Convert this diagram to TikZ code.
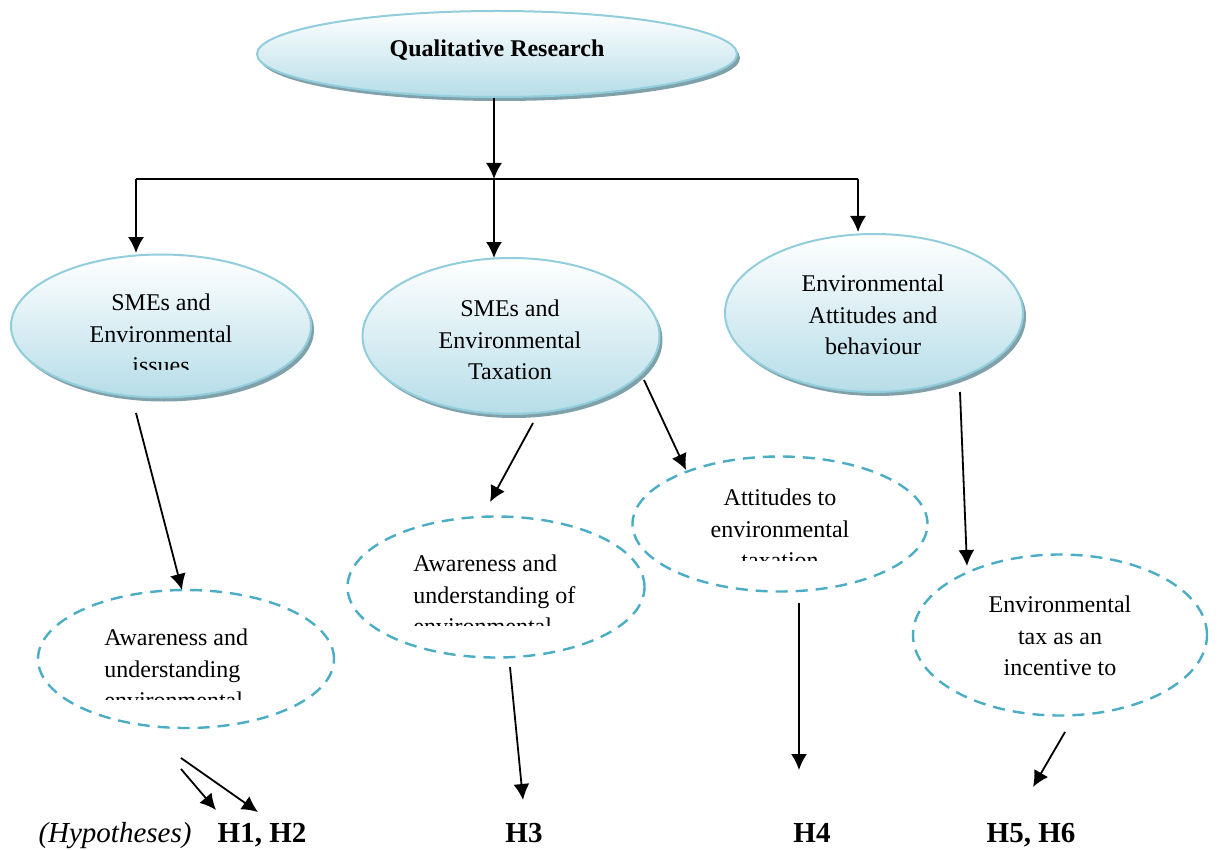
\documentclass[tikz,border=0pt]{standalone}
\usepackage{fontspec}
\setmainfont{Liberation Serif}
\usetikzlibrary{shapes.geometric,arrows.meta,shadows}

\definecolor{rimblue}{RGB}{146,205,220}
\definecolor{fillblue}{RGB}{182,221,232}
\definecolor{shadeblue}{RGB}{128,160,170}
\definecolor{dashblue}{RGB}{75,172,198}

\tikzset{
  topic/.style={ellipse, draw=rimblue, line width=1pt, top color=white,
    bottom color=fillblue, inner sep=0pt,
    drop shadow={shadow xshift=1.5pt, shadow yshift=-2pt, fill=shadeblue, opacity=1}},
  subtopic/.style={ellipse, draw=dashblue, line width=1.2pt,
    dash pattern=on 6pt off 4pt, inner sep=0pt},
  txt/.style={font=\fontsize{12}{15.75}\selectfont, align=center, inner sep=0pt},
  ltxt/.style={txt, align=left},
  hyp/.style={font=\fontsize{14.5}{17}\selectfont\bfseries, inner sep=0pt},
  link/.style={-{Latex[length=8pt,width=8pt]}, line width=0.9pt},
}

\begin{document}
\begin{tikzpicture}[x=0.5pt,y=-0.5pt]
\useasboundingbox (0,0) rectangle (1219,850);

% main topic and the three research areas
\node[topic, minimum width=240pt, minimum height=43pt] (qr) at (497,54) {};
\node[topic, minimum width=150pt, minimum height=71.5pt] (envI) at (161,326) {};
\node[topic, minimum width=148.5pt, minimum height=78pt] (envT) at (511,336) {};
\node[topic, minimum width=149pt, minimum height=79pt] (envA) at (874,313) {};

% sub-themes
\node[subtopic, minimum width=148pt, minimum height=69pt] (awI) at (186,659) {};
\node[subtopic, minimum width=148.5pt, minimum height=70.5pt] (awT) at (496,587) {};
\node[subtopic, minimum width=147.5pt, minimum height=67.5pt] (att) at (780,524) {};
\node[subtopic, minimum width=147pt, minimum height=80.5pt] (inc) at (1060,635) {};

% texts (the fixed-height text boxes cut off their last line)
\node[txt, font=\fontsize{12}{15.75}\selectfont\bfseries, anchor=base] (qrT) at (497,57) {Qualitative Research};
\begin{scope}
  \clip (0,250) rectangle (320,369);
  \node[txt] (envIT) at (161,334) {SMEs and\\Environmental\\issues};
\end{scope}
\node[txt] (envTT) at (510,340) {SMEs and\\Environmental\\Taxation};
\node[txt] (envAT) at (873,315) {Environmental\\Attitudes and\\behaviour};
\begin{scope}
  \clip (40,600) rectangle (330,699);
  \node[ltxt, anchor=west] (awIT) at (104,669) {Awareness and\\understanding\\environmental};
\end{scope}
\begin{scope}
  \clip (350,530) rectangle (640,625);
  \node[ltxt, anchor=west] (awTT) at (413,595) {Awareness and\\understanding of\\environmental};
\end{scope}
\begin{scope}
  \clip (640,470) rectangle (920,560);
  \node[txt] (attT) at (780,529) {Attitudes to\\environmental\\taxation};
\end{scope}
\node[txt] (incT) at (1060,636) {Environmental\\tax as an\\incentive to};

% hypotheses row
\node[hyp, font=\fontsize{14.5}{17}\selectfont\itshape, anchor=base] (hy) at (115,842) {(Hypotheses)};
\node[hyp, anchor=base] (h12) at (262,842) {H1, H2};
\node[hyp, anchor=base] (h3) at (524,842) {H3};
\node[hyp, anchor=base] (h4) at (812,842) {H4};
\node[hyp, anchor=base] (h56) at (1031,842) {H5, H6};

% connector end points
\coordinate (qrOut) at (494,98);
\coordinate (busW) at (136,179);
\coordinate (busM) at (494,179);
\coordinate (busE) at (858,179);
\coordinate (tipW) at (136,253);
\coordinate (tipM) at (494,258);
\coordinate (tipE) at (858,232);
\coordinate (envIOut) at (136,413);
\coordinate (awIIn) at (182,590);
\coordinate (envTOutA) at (533,423);
\coordinate (awTIn) at (490,502);
\coordinate (envTOutB) at (644,380);
\coordinate (attIn) at (686,470);
\coordinate (envAOut) at (960,392);
\coordinate (incIn) at (967,566);
\coordinate (awIOutA) at (181,769);
\coordinate (h1In) at (216,810);
\coordinate (awIOutB) at (181,758);
\coordinate (h2In) at (258,812);
\coordinate (awTOut) at (510,667);
\coordinate (h3In) at (523,800);
\coordinate (attOut) at (799,603);
\coordinate (h4In) at (799,770);
\coordinate (incOut) at (1065,732);
\coordinate (h56In) at (1033,787);

% connectors
\draw[link] (qrOut) -- (busM);
\draw[line width=0.9pt] (busW) -- (busE);
\draw[link] (busW) -- (tipW);
\draw[link] (busM) -- (tipM);
\draw[link] (busE) -- (tipE);
\draw[link] (envIOut) -- (awIIn);
\draw[link] (envTOutA) -- (awTIn);
\draw[link] (envTOutB) -- (attIn);
\draw[link] (envAOut) -- (incIn);
\draw[link] (awIOutA) -- (h1In);
\draw[link] (awIOutB) -- (h2In);
\draw[link] (awTOut) -- (h3In);
\draw[link] (attOut) -- (h4In);
\draw[link] (incOut) -- (h56In);
\end{tikzpicture}
\end{document}
